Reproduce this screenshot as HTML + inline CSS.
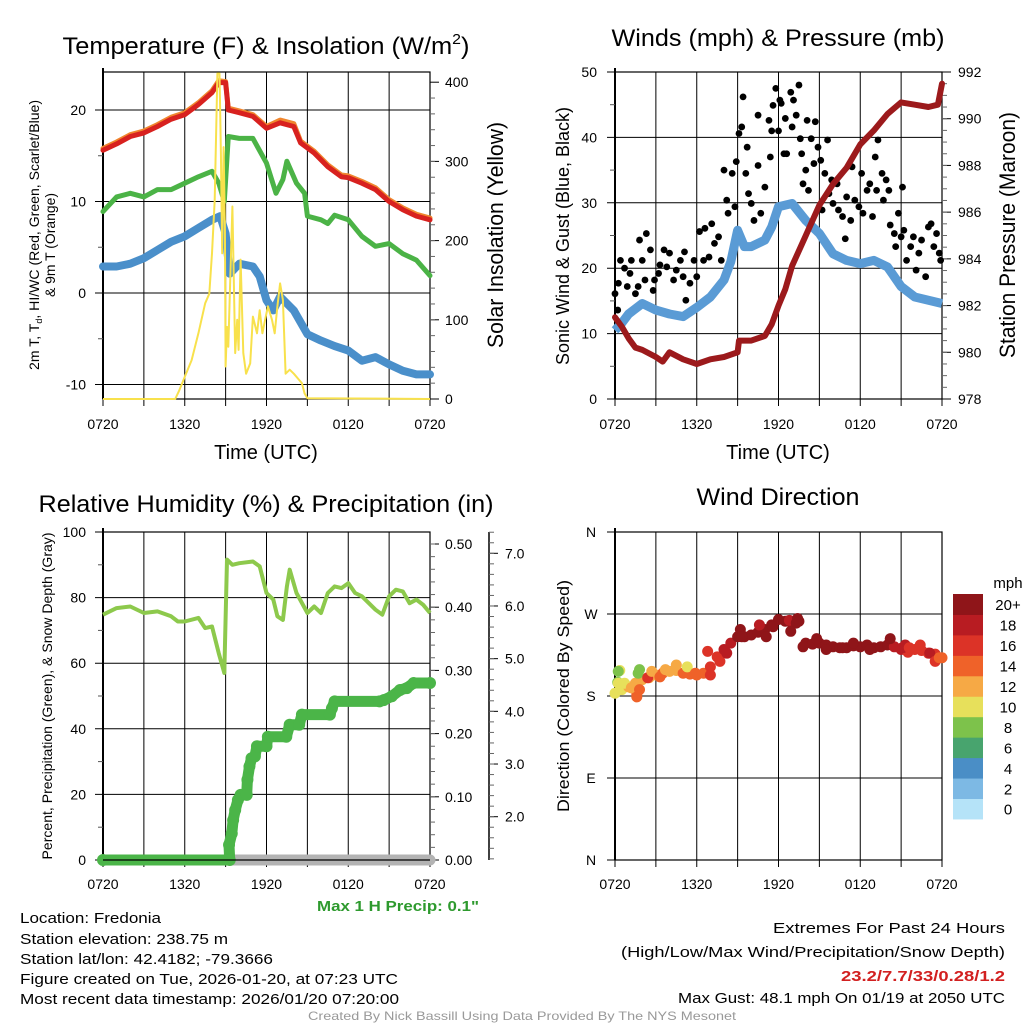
<!DOCTYPE html>
<html><head><meta charset="utf-8">
<style>
html,body{margin:0;padding:0;background:#fff;}
svg{display:block;font-family:"Liberation Sans",Arial,sans-serif;}
</style></head>
<body>
<svg id="fig" xmlns="http://www.w3.org/2000/svg" width="1024" height="1024" viewBox="0 0 1024 1024">
<rect x="0" y="0" width="1024" height="1024" fill="#fff"/>
<g id="layer"></g>

<!-- Titles -->
<text x="266" y="54" font-size="24" text-anchor="middle" textLength="407" lengthAdjust="spacingAndGlyphs">Temperature (F) &amp; Insolation (W/m<tspan font-size="15" dy="-10">2</tspan><tspan dy="10">)</tspan></text>
<text x="778" y="46" font-size="24" text-anchor="middle" textLength="333" lengthAdjust="spacingAndGlyphs">Winds (mph) &amp; Pressure (mb)</text>
<text x="266" y="512" font-size="24" text-anchor="middle" textLength="455" lengthAdjust="spacingAndGlyphs">Relative Humidity (%) &amp; Precipitation (in)</text>
<text x="778" y="505" font-size="24" text-anchor="middle" textLength="163" lengthAdjust="spacingAndGlyphs">Wind Direction</text>

<!-- Axis titles -->
<text x="266" y="459" font-size="20" text-anchor="middle">Time (UTC)</text>
<text x="778" y="459" font-size="20" text-anchor="middle">Time (UTC)</text>
<text transform="translate(39,235) rotate(-90)" font-size="14" text-anchor="middle" textLength="270" lengthAdjust="spacingAndGlyphs">2m T, T<tspan font-size="9" dy="3">d</tspan><tspan dy="-3">, HI/WC (Red, Green, Scarlet/Blue)</tspan></text>
<text transform="translate(55,245) rotate(-90)" font-size="14" text-anchor="middle" textLength="104" lengthAdjust="spacingAndGlyphs">&amp; 9m T (Orange)</text>
<text transform="translate(503,235) rotate(-90)" font-size="22" text-anchor="middle" textLength="226" lengthAdjust="spacingAndGlyphs">Solar Insolation (Yellow)</text>
<text transform="translate(569,236) rotate(-90)" font-size="18" text-anchor="middle" textLength="258" lengthAdjust="spacingAndGlyphs">Sonic Wind &amp; Gust (Blue, Black)</text>
<text transform="translate(1015,235) rotate(-90)" font-size="22" text-anchor="middle" textLength="246" lengthAdjust="spacingAndGlyphs">Station Pressure (Maroon)</text>
<text transform="translate(52,696) rotate(-90)" font-size="14" text-anchor="middle" textLength="327" lengthAdjust="spacingAndGlyphs">Percent, Precipitation (Green), &amp; Snow Depth (Gray)</text>
<text transform="translate(569,696) rotate(-90)" font-size="17" text-anchor="middle" textLength="232" lengthAdjust="spacingAndGlyphs">Direction (Colored By Speed)</text>
<text x="1008" y="588" font-size="15" text-anchor="middle">mph</text>

<!-- Footer text -->
<text x="398" y="911" font-size="15" font-weight="bold" fill="#2e9a2e" text-anchor="middle" textLength="162" lengthAdjust="spacingAndGlyphs">Max 1 H Precip: 0.1"</text>
<g font-size="15">
<text x="20" y="923" textLength="141" lengthAdjust="spacingAndGlyphs">Location: Fredonia</text>
<text x="20" y="944" textLength="208" lengthAdjust="spacingAndGlyphs">Station elevation: 238.75 m</text>
<text x="20" y="964" textLength="253" lengthAdjust="spacingAndGlyphs">Station lat/lon: 42.4182; -79.3666</text>
<text x="20" y="984" textLength="378" lengthAdjust="spacingAndGlyphs">Figure created on Tue, 2026-01-20, at 07:23 UTC</text>
<text x="20" y="1004" textLength="379" lengthAdjust="spacingAndGlyphs">Most recent data timestamp: 2026/01/20 07:20:00</text>
</g>
<g font-size="15" text-anchor="end">
<text x="1005" y="933" textLength="232" lengthAdjust="spacingAndGlyphs">Extremes For Past 24 Hours</text>
<text x="1005" y="957" textLength="384" lengthAdjust="spacingAndGlyphs">(High/Low/Max Wind/Precipitation/Snow Depth)</text>
<text x="1005" y="981" font-weight="bold" fill="#d22020" textLength="164" lengthAdjust="spacingAndGlyphs">23.2/7.7/33/0.28/1.2</text>
<text x="1005" y="1003" textLength="327" lengthAdjust="spacingAndGlyphs">Max Gust: 48.1 mph On 01/19 at 2050 UTC</text>
</g>
<text x="522" y="1020" font-size="12" fill="#999" text-anchor="middle" textLength="428" lengthAdjust="spacingAndGlyphs">Created By Nick Bassill Using Data Provided By The NYS Mesonet</text>
</svg>

<script>
// ---------- DATA ----------
const timeLabels = ["0720","1320","1920","0120","0720"];
const timeLabelHours = [0,6,12,18,24];

const tempHours = [0,1,2,3,4,5,6,7,8,8.5,9,9.2,10,11,12,13,14,14.5,15.5,16.5,17.5,18,19,20,21,22,23,24];
const tempRed = [15.6,16.3,17.1,17.5,18.2,19.0,19.5,20.6,21.9,23.0,23.0,20.0,19.7,19.3,18.0,18.6,18.2,16.4,15.3,13.8,12.7,12.6,12.0,11.3,10.0,9.1,8.4,8.0];
const tempOrange = [15.8,16.5,17.3,17.7,18.4,19.2,19.7,20.8,22.1,23.2,23.1,20.2,19.9,19.5,18.2,18.9,18.5,16.6,15.5,14.0,12.9,12.8,12.2,11.5,10.2,9.3,8.6,8.2];
const dewHours = [0,1,2,3,4,5,6,7,8,8.5,8.9,9.2,10,11,12,12.7,13.2,13.5,14.2,14.8,15,16,16.5,17,18,19,20,21,22,23,24];
const dewGreen = [8.9,10.5,10.9,10.5,11.3,11.3,12.0,12.7,13.3,12.0,10.0,17.1,16.9,16.9,14.2,10.9,12.4,14.4,12.0,10.9,8.4,8.0,7.6,8.5,8.0,6.2,5.1,5.4,4.3,3.6,1.9];
const wcHours = [0,1,2,3,4,5,6,7,8,8.6,9,9.3,10,11,11.5,12,12.5,13,14,15,16,17,18,19,20,21,22,23,24];
const wcBlue = [2.9,2.9,3.2,3.8,4.7,5.6,6.2,7.1,8.0,8.4,6.5,2.1,3.2,2.9,1.8,-0.8,-1.9,-0.4,-1.9,-4.5,-5.2,-5.8,-6.3,-7.4,-7.0,-7.8,-8.5,-8.9,-8.9];
const solarHours = [0,5.3,5.6,6,6.5,7,7.5,7.8,8,8.2,8.4,8.55,8.65,8.75,8.85,8.95,9.0,9.1,9.2,9.5,9.7,9.85,9.95,10.1,10.3,10.5,10.8,11,11.3,11.5,11.7,11.9,12.1,12.4,12.6,12.8,13,13.2,13.4,13.7,14,14.4,14.6,14.8,15,24];
const solarValues = [0,0,11,28,49,83,121,133,184,251,411,411,310,184,318,218,41,91,66,243,58,100,62,176,58,32,45,104,83,112,83,100,117,100,83,117,146,125,32,37,32,24,20,7,1,0];

const presHours = [0,0.5,1,1.5,2,3,3.5,4,5,6,7,8,9,9.1,10,11,11.5,12,12.5,13,14,15,16,17,18,19,20,21,22,23,23.7,24];
const presValues = [981.5,981.1,980.6,980.2,980.1,979.8,979.6,980.0,979.7,979.5,979.7,979.8,980.0,980.5,980.5,980.7,981.2,982.0,982.7,983.7,985.0,986.3,987.2,987.9,988.9,989.5,990.2,990.7,990.6,990.5,990.6,991.5];
const windHours = [0,0.5,1,2,3,4,5,6,7,8,8.5,9,9.5,10,11,11.5,12,13,14,15,16,17,18,19,20,21,22,23,24];
const windValues = [10.5,11.6,13.0,14.6,13.6,13.0,12.6,14.0,15.6,18.2,21.0,25.8,23.3,23.3,24.3,26.3,29.4,29.9,27.3,25.3,22.2,21.2,20.7,21.2,20.2,17.2,15.6,15.1,14.6];
const gustHours = [0,0.25,0.4,0.2,0.7,0.9,1.1,1.2,1.5,1.7,1.8,2,2.2,2.3,2.6,2.8,2.9,3.2,3.3,3.6,3.8,4,4.3,4.5,4.8,5,5.1,5.2,5.5,5.8,6,6.2,6.5,6.6,6.9,7.1,7.3,7.6,7.8,8,8.2,8.3,8.6,8.8,8.9,9.1,9.3,9.4,9.6,9.7,9.8,10,10.2,10.5,10.5,10.7,11,11.3,11.4,11.5,11.6,11.8,12,12.1,12.2,12.4,12.5,12.6,12.9,13,13.1,13.3,13.5,13.6,13.7,13.8,14,14.1,14.2,14.4,14.6,14.7,14.9,15.1,15.2,15.4,15.6,15.7,15.9,16,16.3,16.4,16.7,16.9,17,17.3,17.4,17.6,17.9,18.1,18.2,18.5,18.7,18.9,19.1,19.2,19.3,19.6,19.7,19.9,20.1,20.2,20.5,20.6,20.8,21,21.1,21.2,21.4,21.7,21.9,22.1,22.3,22.5,22.8,23,23.2,23.4,23.6,23.8,23.9];
const gustValues = [16.1,17.7,21.2,13.6,20,17.2,19.2,21.2,16.1,17.2,24.3,21.2,18.2,25.3,22.8,16.6,18.2,19.2,20.5,22.8,20.2,22.3,18.2,19.7,21.2,18.7,22.5,15.1,17.7,21.2,18.7,25.6,21.2,26.1,21.7,26.8,23.8,24.8,21.2,35,30.4,28.4,34.5,29.4,36.3,40.6,41.6,46.2,34.5,38.5,31.4,29.9,27.3,43.4,35.7,28.4,32.4,42.6,37,41,44.9,47.5,41,45.7,45.2,37.5,42.9,37.5,46.9,41.6,45.7,43.4,48,39.8,37.5,32.9,35,42.6,31.9,39.8,36,42.4,38.5,36.5,28.9,34.5,39.6,31.4,33.5,29.9,32.9,28.9,27.9,24.5,30.9,27.3,35.5,30.4,29.4,34.5,28.4,31.9,32.9,27.9,37,31.9,39.6,34.5,30.4,33.5,31.9,26.6,25.3,23.3,28.4,24.8,32.4,25.8,21.2,23.3,24.8,19.7,22.3,24.3,18.7,26.3,26.8,23.3,25.3,22.3,21.2];

const rhHours = [0,1,2,3,4,5,5.5,6,7,7.5,8,8.5,8.9,9.1,9.5,10,11,11.5,12,12.5,12.8,13.2,13.5,13.7,14.2,15,15.5,16,16.5,17,17.5,18,18.5,19,20,20.5,21,21.5,22,22.5,23,23.5,24];
const rhValues = [74.8,76.8,77.3,75.3,75.8,74.3,72.7,72.7,73.8,70.7,71.2,63,57,91.6,90,90.5,91,89.5,81.4,79.4,74.3,73.2,83.4,88.5,81.4,75.3,77.3,75.3,81.4,83.4,82.9,84.4,81.4,80.4,76.3,74.8,80.4,82.4,81.9,78.3,79.4,77.8,75.3];
const precipHours = [0,9.3,9.25,9.45,9.55,9.7,9.9,10.1,10.55,10.6,10.75,10.9,11.15,11.3,12.0,12.1,13.45,13.7,14.4,14.6,16.65,16.8,17.0,20.3,20.6,21.2,21.8,22.3,22.8,24];
const precipValues = [0,0,0.024,0.042,0.063,0.079,0.095,0.103,0.103,0.127,0.148,0.161,0.164,0.18,0.18,0.195,0.195,0.214,0.214,0.23,0.23,0.24,0.251,0.251,0.253,0.259,0.269,0.272,0.28,0.28];
const snowHours = [0,24];
const snowValues = [0,0];

const dirHours = [0,0.5,1,1.5,2,2.5,3,3.5,4,4.5,5,5.5,6,6.5,7,7.5,8,8.5,9,9.5,10,10.5,11,11.5,12,12.5,13,13.5,14,14.5,15,15.5,16,16.5,17,17.5,18,18.5,19,19.5,20,20.5,21,21.5,22,22.5,23,23.5,24,0.2,0.35,1.7,1.6,6.8,12.8,13.3,21.3,
  0.24,1.8,0.24,0.7,1.2,1.6,1.8,2.4,2.7,3.3,3.7,4.5,5.3,5.9,7.0,7.7,8.2,9.2,9.3,10.6,11.1,11.6,12.9,13.4,13.8,14.8,15.5,16.7,17.5,18.7,20.2,21.1,21.6,22.4,23.1,23.5,23.8];
const dirValues = [183,187,190,194,198,200,203,205,207,208,205,204,203,205,212,223,231,238,245,245,247,250,253,258,264,262,260,262,238,237,238,236,234,233,233,235,234,236,233,234,236,234,231,228,231,230,227,226,222,195,208,205,182,229,263,260,236,
  207,209,194,194,189,179,187,200,207,201,209,214,212,205,203,218,227,253,245,258,245,256,251,265,234,243,231,233,238,231,243,233,233,236,227,218,222];
const dirSpeeds = [10,11,12,13,12,13,13,14,12,13,14,15,14,15,16,17,18,19,20,21,21,22,22,23,23,23,22,21,21,21,21,21,21,21,21,21,21,21,21,21,20,19,18,17,17,16,16,17,15,8,10,8,14,17,19,20,18,
  8,8,10,10,12,14,14,16,12,14,12,12,10,14,16,16,18,20,20,18,20,20,20,20,20,20,20,20,20,20,20,18,16,16,18,16,14];
const dirTickLabels = ["N","E","S","W","N"];
const dirTickValues = [0,90,180,270,360];
const cbLabels = ["0","2","4","6","8","10","12","14","16","18","20+"];
const cbColors = ["#b5e3f8","#7db9e4","#4a8ec6","#48a46e","#7dc24b","#e7e05b","#f6a945","#ef6229","#dc3327","#b81c22","#8f1519"];

// ---------- HELPERS ----------
const NS="http://www.w3.org/2000/svg";
const layer=document.getElementById('layer');
function mk(tag, attrs, name, parent){
  const el=document.createElementNS(NS,tag);
  for(const k in attrs) el.setAttribute(k,attrs[k]);
  
  
  (parent||layer).appendChild(el);
  return el;
}
function txt(x,y,s,anchor,size,name,extra){
  const a=Object.assign({x:x,y:y,'font-size':size||14,'text-anchor':anchor||'start'},extra||{});
  const t=mk('text',a,name);
  t.textContent=s;
  return t;
}
function scaleX(P){return h=>P.x0+h*(P.x1-P.x0)/24;}
function lin(d0,d1,r0,r1){return v=>r0+(v-d0)*(r1-r0)/(d1-d0);}
function pathFrom(xs,ys,fx,fy){
  let d='';
  for(let i=0;i<xs.length;i++) d+=(i?'L':'M')+fx(xs[i]).toFixed(1)+','+fy(ys[i]).toFixed(1);
  return d;
}
function timeAxis(P,prefix,labelY){
  const fx=scaleX(P);
  for(let h=3;h<24;h+=3){
    mk('line',{x1:fx(h),x2:fx(h),y1:P.y0,y2:P.y1+7,stroke:'#000','stroke-width':1},prefix+'-vgrid');
  }
  mk('line',{x1:P.x1,x2:P.x1,y1:P.y1,y2:P.y1+7,stroke:'#000','stroke-width':1},prefix+'-xtick');
  mk('line',{x1:P.x0,x2:P.x0,y1:P.y1,y2:P.y1+7,stroke:'#000','stroke-width':1},prefix+'-xtick');
  for(let i=0;i<timeLabels.length;i++){
    txt(fx(timeLabelHours[i]),labelY,timeLabels[i],'middle',14,prefix+'-x-tick-label');
  }
}
function frame(P,prefix){
  mk('rect',{x:P.x0,y:P.y0,width:P.x1-P.x0,height:P.y1-P.y0,fill:'none',stroke:'#000','stroke-width':1.2},prefix+'-frame');
  mk('line',{x1:P.x0,x2:P.x0,y1:P.y0-4,y2:P.y1,stroke:'#000','stroke-width':2},prefix+'-left-spine');
}
function leftAxis(P,fy,majors,labels,minors,prefix,labelX){
  majors.forEach((v,i)=>{
    const y=fy(v);
    mk('line',{x1:P.x0-8,x2:P.x1,y1:y,y2:y,stroke:'#000','stroke-width':1},prefix+'-hgrid');
    txt(labelX,y+5,labels[i],'end',14,prefix+'-y-tick-label');
  });
  minors.forEach(v=>{const y=fy(v);mk('line',{x1:P.x0-5,x2:P.x0,y1:y,y2:y,stroke:'#555','stroke-width':1},prefix+'-y-minor-tick');});
}
function rightAxis(axX,fy,majors,labels,minors,prefix,labelX){
  majors.forEach((v,i)=>{
    const y=fy(v);
    mk('line',{x1:axX,x2:axX+9,y1:y,y2:y,stroke:'#000','stroke-width':1},prefix+'-right-tick');
    txt(labelX,y+5,labels[i],'start',14,prefix+'-right-tick-label');
  });
  minors.forEach(v=>{const y=fy(v);mk('line',{x1:axX,x2:axX+5,y1:y,y2:y,stroke:'#666','stroke-width':1},prefix+'-right-minor-tick');});
}
function range(a,b,s){const r=[];for(let v=a;v<=b+1e-9;v+=s)r.push(+v.toFixed(4));return r;}

// ---------- PANEL 1: Temperature ----------
const P1={x0:103,x1:430,y0:72,y1:399};
const fx1=scaleX(P1);
const fy1=lin(0,10,293,201.5);
const fy1r=lin(0,400,399,82.2);
frame(P1,'temp');
leftAxis(P1,fy1,[20,10,0,-10],['20','10','0','-10'],[-5,5,15],'temp',86);
rightAxis(P1.x1,fy1r,[0,100,200,300,400],['0','100','200','300','400'],range(20,380,20),'temp',445);
timeAxis(P1,'temp',429);
mk('path',{d:pathFrom(tempHours,tempOrange,fx1,fy1),fill:'none',stroke:'#f0862e','stroke-width':5,'stroke-linejoin':'round','stroke-linecap':'round'},'orange-9m-temp-line');
mk('path',{d:pathFrom(tempHours,tempRed,fx1,fy1),fill:'none',stroke:'#d8211f','stroke-width':5,'stroke-linejoin':'round','stroke-linecap':'round'},'red-temp-line');
mk('path',{d:pathFrom(dewHours,dewGreen,fx1,fy1),fill:'none',stroke:'#4bb346','stroke-width':5,'stroke-linejoin':'round','stroke-linecap':'round'},'green-dewpoint-line');
mk('path',{d:pathFrom(wcHours,wcBlue,fx1,fy1),fill:'none',stroke:'#4a8fca','stroke-width':8,'stroke-linejoin':'round','stroke-linecap':'round'},'blue-windchill-line');
mk('path',{d:pathFrom(solarHours,solarValues,fx1,fy1r),fill:'none',stroke:'#f8e14c','stroke-width':2,'stroke-linejoin':'round'},'yellow-insolation-line');

// ---------- PANEL 2: Winds ----------
const P2={x0:615,x1:942,y0:72,y1:399};
const fx2=scaleX(P2);
const fy2=lin(0,50,399,72);
const fy2r=lin(978,992,399,72);
frame(P2,'wind');
leftAxis(P2,fy2,[50,40,30,20,10,0],['50','40','30','20','10','0'],[5,15,25,35,45],'wind',597);
rightAxis(P2.x1,fy2r,[978,980,982,984,986,988,990,992],['978','980','982','984','986','988','990','992'],range(978.5,991.5,0.5),'wind',958);
timeAxis(P2,'wind',429);
mk('path',{d:pathFrom(windHours,windValues,fx2,fy2),fill:'none',stroke:'#5a9bd5','stroke-width':9,'stroke-linejoin':'round'},'blue-sonic-wind-line');
for(let i=0;i<gustHours.length;i++){
  mk('circle',{cx:fx2(gustHours[i]),cy:fy2(gustValues[i]),r:3.4,fill:'#000'},'gust-point');
}
mk('path',{d:pathFrom(presHours,presValues,fx2,fy2r),fill:'none',stroke:'#9c1a1c','stroke-width':6,'stroke-linejoin':'round','stroke-linecap':'round'},'maroon-pressure-line');

// ---------- PANEL 3: Humidity ----------
const P3={x0:103,x1:430,y0:532,y1:860};
const fx3=scaleX(P3);
const fy3=lin(0,100,860,532);
const fy3p=lin(0,0.5,860,544);
const fy3s=lin(2,7,816.7,553.3);
frame(P3,'rh');
leftAxis(P3,fy3,[100,80,60,40,20,0],['100','80','60','40','20','0'],[10,30,50,70,90],'rh',86);
rightAxis(P3.x1,fy3p,[0,0.1,0.2,0.3,0.4,0.5],['0.00','0.10','0.20','0.30','0.40','0.50'],range(0.02,0.5,0.02),'precip',445);
mk('line',{x1:489,x2:489,y1:532,y2:860,stroke:'#000','stroke-width':1.5},'snow-depth-axis');
rightAxis(489,fy3s,[2,3,4,5,6,7],['2.0','3.0','4.0','5.0','6.0','7.0'],range(1.2,7.4,0.2),'snow',505);
timeAxis(P3,'rh',889);
mk('path',{d:pathFrom(snowHours,snowValues,fx3,fy3),fill:'none',stroke:'#b3b3b3','stroke-width':11,'stroke-linecap':'round'},'gray-snow-depth-line');
mk('path',{d:pathFrom(rhHours,rhValues,fx3,fy3),fill:'none',stroke:'#8dc94c','stroke-width':4,'stroke-linejoin':'round'},'rh-line');
mk('path',{d:pathFrom(precipHours,precipValues,fx3,fy3p),fill:'none',stroke:'#4bb548','stroke-width':11,'stroke-linejoin':'round','stroke-linecap':'round'},'precip-line');
for(let i=0;i<precipHours.length;i++){
  mk('circle',{cx:fx3(precipHours[i]),cy:fy3p(precipValues[i]),r:6,fill:'#4bb548'},'precip-point');
}
mk('line',{x1:P3.x0,x2:P3.x1,y1:P3.y1,y2:P3.y1,stroke:'#000','stroke-width':1.2},'rh-bottom-spine');

// ---------- PANEL 4: Wind direction ----------
const P4={x0:615,x1:942,y0:532,y1:860};
const fx4=scaleX(P4);
const fy4=lin(0,360,860,532);
frame(P4,'dir');
dirTickValues.forEach((v,i)=>{
  const y=fy4(v);
  mk('line',{x1:P4.x0-8,x2:P4.x1,y1:y,y2:y,stroke:'#000','stroke-width':1},'dir-hgrid');
  txt(591,y+5,dirTickLabels[i],'middle',14,'dir-y-tick-label');
});
timeAxis(P4,'dir',889);
function speedColor(s){return cbColors[Math.min(10,Math.max(0,Math.floor(s/2)))];}
for(let i=0;i<dirHours.length;i++){
  mk('circle',{cx:fx4(dirHours[i]),cy:fy4(dirValues[i]),r:5.5,fill:speedColor(dirSpeeds[i])},'direction-point');
}
// colorbar
const cbTop=594, cbH=20.45;
for(let i=0;i<cbColors.length;i++){
  const y=cbTop+(10-i)*cbH;
  mk('rect',{x:953,y:y,width:30,height:cbH+0.5,fill:cbColors[i]},'colorbar-box');
  txt(1008,y+cbH/2+6,cbLabels[i],'middle',15,'colorbar-label');
}
</script>
</body></html>
